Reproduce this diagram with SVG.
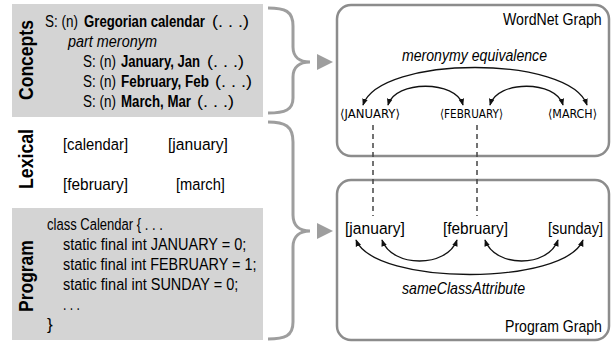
<svg xmlns="http://www.w3.org/2000/svg" width="613" height="343" viewBox="0 0 613 343">
<style>
  text { font-family: "Liberation Sans", Arial, sans-serif; fill: #000; }
  .t { font-size: 17px; }
  .b { font-weight: bold; }
  .i { font-style: italic; }
  .side { font-size: 21px; font-weight: bold; }
  .sc { font-size: 12.5px; font-family: "DejaVu Sans", "Liberation Sans", sans-serif; }
  .panel { fill: #d4d4d4; }
  .frame { fill: #ffffff; stroke: #8c8c8c; stroke-width: 2.5; }
  .brace { fill: none; stroke: #9e9e9e; stroke-width: 3; }
  .bigarrow { fill: #9e9e9e; }
  .arc { fill: none; stroke: #111; stroke-width: 1.3; marker-start: url(#ah); marker-end: url(#ah); }
  .dash { fill: none; stroke: #444; stroke-width: 1.5; stroke-dasharray: 5 4; }
</style>
<defs>
  <marker id="ah" viewBox="0 0 10 10" refX="9" refY="5" markerWidth="7" markerHeight="7" markerUnits="userSpaceOnUse" orient="auto-start-reverse">
    <path d="M0,1 L10,5 L0,9 z" fill="#111"/>
  </marker>
</defs>

<g id="concepts">
  <rect class="panel" x="12" y="4" width="251" height="113"/>
  <text class="side" transform="translate(33,100) rotate(-90) scale(0.836,1)">Concepts</text>
  <text class="t" transform="translate(45,27) scale(0.794,1)">S: (n)</text>
  <text class="t b" transform="translate(84,27) scale(0.776,1)">Gregorian calendar</text>
  <text class="t" transform="translate(212,27) scale(1.06,1)">(. . .)</text>
  <text class="t i" transform="translate(68,47) scale(0.849,1)">part meronym</text>
  <text class="t" transform="translate(83,67) scale(0.794,1)">S: (n)</text>
  <text class="t b" transform="translate(121,67) scale(0.77,1)">January, Jan</text>
  <text class="t" transform="translate(207,67) scale(1.06,1)">(. . .)</text>
  <text class="t" transform="translate(83,87) scale(0.794,1)">S: (n)</text>
  <text class="t b" transform="translate(121,87) scale(0.792,1)">February, Feb</text>
  <text class="t" transform="translate(215,87) scale(1.06,1)">(. . .)</text>
  <text class="t" transform="translate(83,107) scale(0.794,1)">S: (n)</text>
  <text class="t b" transform="translate(121,107) scale(0.78,1)">March, Mar</text>
  <text class="t" transform="translate(197,107) scale(1.06,1)">(. . .)</text>
</g>

<g id="lexical">
  <text class="side" transform="translate(33,189) rotate(-90) scale(0.843,1)">Lexical</text>
  <text class="t" transform="translate(63,150) scale(0.871,1)">[calendar]</text>
  <text class="t" transform="translate(168,150) scale(0.92,1)">[january]</text>
  <text class="t" transform="translate(63,190) scale(0.905,1)">[february]</text>
  <text class="t" transform="translate(176,190) scale(0.864,1)">[march]</text>
</g>

<g id="program">
  <rect class="panel" x="12" y="208" width="251" height="132"/>
  <text class="side" transform="translate(33,312) rotate(-90) scale(0.833,1)">Program</text>
  <text class="t" transform="translate(47,230) scale(0.767,1)">class Calendar { . . .</text>
  <text class="t" transform="translate(63,250) scale(0.852,1)">static final int JANUARY = 0;</text>
  <text class="t" transform="translate(63,270) scale(0.847,1)">static final int FEBRUARY = 1;</text>
  <text class="t" transform="translate(63,290) scale(0.853,1)">static final int SUNDAY = 0;</text>
  <text class="t" transform="translate(63,310) scale(0.72,1)">. . .</text>
  <text class="t" x="47" y="330">}</text>
</g>

<g id="wordnet-graph">
  <rect class="frame" x="337" y="5" width="272" height="151" rx="14"/>
  <text class="t" transform="translate(503,25) scale(0.832,1)">WordNet Graph</text>
  <text class="t i" transform="translate(402,61) scale(0.83,1)">meronymy equivalence</text>
</g>
<g id="node-wn-january"><text class="sc" x="340" y="118" textLength="60" lengthAdjust="spacingAndGlyphs">⟨JANUARY⟩</text></g>
<g id="node-wn-february"><text class="sc" x="440" y="118" textLength="63" lengthAdjust="spacingAndGlyphs">⟨FEBRUARY⟩</text></g>
<g id="node-wn-march"><text class="sc" x="548" y="118" textLength="49" lengthAdjust="spacingAndGlyphs">⟨MARCH⟩</text></g>

<g id="program-graph">
  <rect class="frame" x="337" y="180" width="272" height="160" rx="14"/>
  <text class="t" transform="translate(505,332) scale(0.828,1)">Program Graph</text>
  <text class="t i" transform="translate(402,294) scale(0.835,1)">sameClassAttribute</text>
</g>
<g id="node-pg-january"><text class="t" transform="translate(345,234) scale(0.92,1)">[january]</text></g>
<g id="node-pg-february"><text class="t" transform="translate(443,234) scale(0.905,1)">[february]</text></g>
<g id="node-pg-sunday"><text class="t" transform="translate(548,234) scale(0.856,1)">[sunday]</text></g>

<g id="connectors">
  <path class="brace" d="M268 8 C285 8 293 11 293 26 L293 47 C293 57 300 62 310 62 C300 62 293 67 293 77 L293 98 C293 110 285 113 268 113"/>
  <polygon class="bigarrow" points="317,54 333,62 317,70"/>
  <path class="brace" d="M268 122 C285 122 293 126 293 142 L293 215 C293 226 300 231 310 231 C300 231 293 236 293 247 L293 322 C293 336 285 339 268 339"/>
  <polygon class="bigarrow" points="317,223 333,231 317,239"/>

  <path class="arc" d="M363 105 C380 55 570 55 587 105"/>
  <path class="arc" d="M388 105 C395 80 456 80 463 105"/>
  <path class="arc" d="M490 105 C497 80 556 80 563 105"/>

  <path class="dash" d="M373 125 L373 216"/>
  <path class="dash" d="M477 125 L477 216"/>

  <path class="arc" d="M356 240 C375 286 565 286 583 240"/>
  <path class="arc" d="M382 240 C392 268 447 268 457 240"/>
  <path class="arc" d="M485 240 C495 268 548 268 558 240"/>
</g>
</svg>
